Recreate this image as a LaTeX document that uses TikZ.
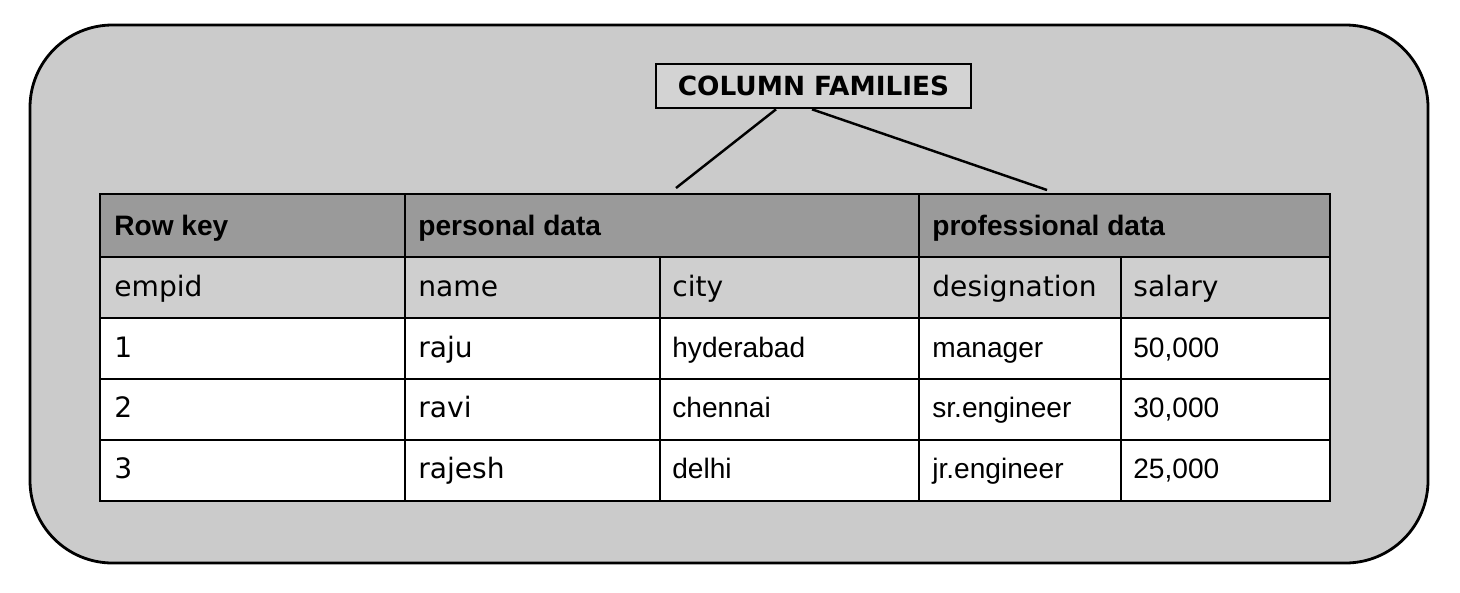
\documentclass[tikz,border=0pt]{standalone}
\usepackage{fontspec}
\usepackage{xcolor}
\usepackage{tikz}
\newfontfamily\verdfont{DejaVu Sans}
\newfontfamily\arialfont{Liberation Sans}
\definecolor{boxgray}{HTML}{CBCBCB}
\definecolor{headgray}{HTML}{9A9A9A}
\definecolor{subgray}{HTML}{CFCFCF}
\definecolor{labelgray}{HTML}{D3D3D3}

\begin{document}
\begin{tikzpicture}[x=0.02cm,y=-0.02cm,
    headtxt/.style={anchor=base west,inner sep=0pt,font=\arialfont\bfseries\fontsize{16}{19}\selectfont},
    subtxt/.style={anchor=base west,inner sep=0pt,font=\verdfont\fontsize{16}{19}\selectfont},
    celltxt/.style={anchor=base west,inner sep=0pt,font=\arialfont\fontsize{16}{19}\selectfont},
    gridline/.style={line width=1.3pt}]
    \useasboundingbox (0,0) rectangle (1460,592);

    % Outer rounded box
    \draw[line width=1.6pt,fill=boxgray,rounded corners=1.65cm] (30,25) rectangle (1428,563);

    % Row backgrounds
    \fill[headgray] (100,194) rectangle (1330,257);
    \fill[subgray] (100,257) rectangle (1330,318);
    \fill[white] (100,318) rectangle (1330,501);

    % Table grid
    \draw[gridline] (100,194) rectangle (1330,501);
    \draw[gridline] (100,257) -- (1330,257);
    \draw[gridline] (100,318) -- (1330,318);
    \draw[gridline] (100,379) -- (1330,379);
    \draw[gridline] (100,440) -- (1330,440);
    \draw[gridline] (405,194) -- (405,501);
    \draw[gridline] (919,194) -- (919,501);
    \draw[gridline] (660,257) -- (660,501);
    \draw[gridline] (1121,257) -- (1121,501);

    % Column families label
    \node[draw,line width=1.5pt,fill=labelgray,minimum width=6.3cm,minimum height=0.88cm,
      font=\verdfont\bfseries\fontsize{15}{18}\selectfont] (fam) at (813.5,86) {COLUMN FAMILIES};
    \coordinate (persTop) at (676,188);
    \coordinate (profTop) at (1047,190);
    \draw[line width=1.4pt] ([xshift=-0.75cm]fam.south) -- (persTop);
    \draw[line width=1.4pt] ([xshift=-0.03cm]fam.south) -- (profTop);

    % Header row
    \node[headtxt] (rowkey) at (114,235) {Row key};
    \node[headtxt] (persdata) at (418,235) {personal data};
    \node[headtxt] (profdata) at (932,235) {professional data};

    % Column names
    \node[subtxt] (empid) at (114,296) {empid};
    \node[subtxt] (name) at (418,296) {name};
    \node[subtxt] (city) at (672,296) {city};
    \node[subtxt] (desig) at (932,296) {designation};
    \node[subtxt] (salary) at (1133,296) {salary};

    % Data rows
    \node[subtxt] (idA) at (114,357) {1};
    \node[subtxt] (nameA) at (418,357) {raju};
    \node[celltxt] (cityA) at (672,357) {hyderabad};
    \node[celltxt] (desigA) at (932,357) {manager};
    \node[celltxt] (salA) at (1133,357) {50,000};

    \node[subtxt] (idB) at (114,417) {2};
    \node[subtxt] (nameB) at (418,417) {ravi};
    \node[celltxt] (cityB) at (672,417) {chennai};
    \node[celltxt] (desigB) at (932,417) {sr.engineer};
    \node[celltxt] (salB) at (1133,417) {30,000};

    \node[subtxt] (idC) at (114,478) {3};
    \node[subtxt] (nameC) at (418,478) {rajesh};
    \node[celltxt] (cityC) at (672,478) {delhi};
    \node[celltxt] (desigC) at (932,478) {jr.engineer};
    \node[celltxt] (salC) at (1133,478) {25,000};
  \end{tikzpicture}
\end{document}
